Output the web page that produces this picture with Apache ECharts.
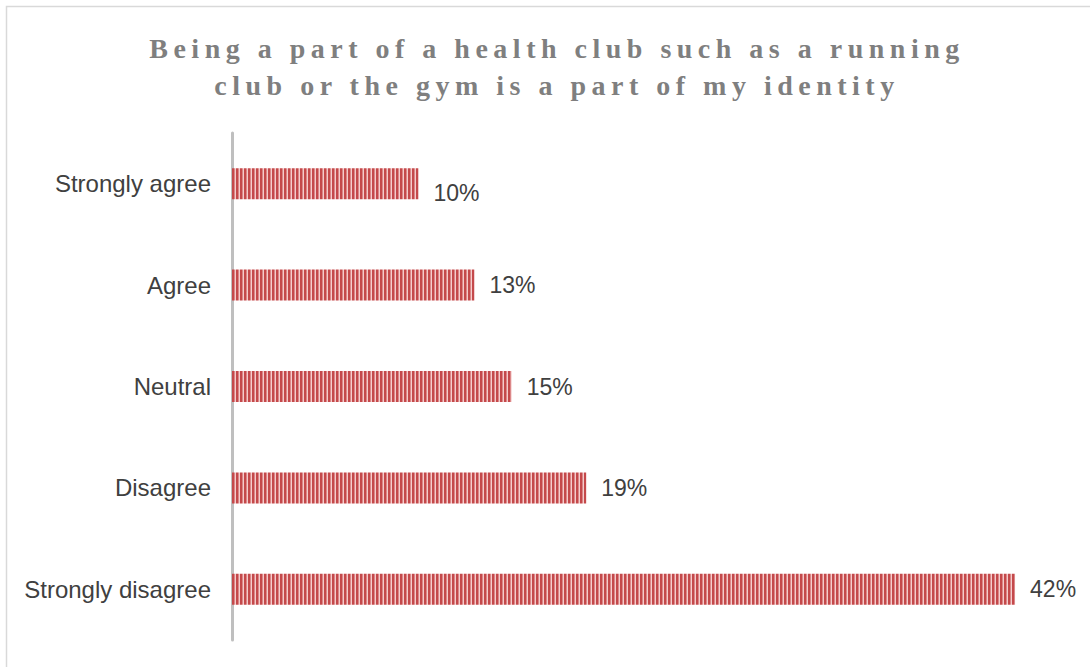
<!DOCTYPE html>
<html>
<head>
<meta charset="utf-8">
<script src="https://cdn.jsdelivr.net/npm/echarts@6/dist/echarts.min.js"></script>
<style>
  html, body { margin: 0; padding: 0; background: #fff; }
  #chart { width: 1090px; height: 667px; overflow: hidden; }
  /* title letter spacing (svg renderer) */
  #chart text[style*="Liberation Serif"] { letter-spacing: 5.5px; }
</style>
</head>
<body>
<div id="chart"></div>
<script>
var titleText = "Being a part of a health club such as a running\nclub or the gym is a part of my identity";
var categories = ["Strongly agree", "Agree", "Neutral", "Disagree", "Strongly disagree"];
var values = [10, 13, 15, 19, 42];

// striped fill for the bars
function stripeImage() {
  var c = document.createElement("canvas");
  c.width = 4;
  c.height = 4;
  var ctx = c.getContext("2d");
  ctx.fillStyle = "#c4494b";
  ctx.fillRect(0, 0, 2, 4);
  ctx.fillStyle = "#dc8889";
  ctx.fillRect(2, 0, 1, 4);
  ctx.fillStyle = "#f4cccc";
  ctx.fillRect(3, 0, 1, 4);
  return c.toDataURL();
}

var myChart = echarts.init(document.getElementById("chart"), null, { renderer: "svg" });

var seriesData = values.map(function (v, i) {
  var item = { value: v };
  if (i === 0) {
    item.label = { offset: [0, 9] };
  }
  return item;
});

myChart.setOption({
  animation: false,
  backgroundColor: "#ffffff",
  graphic: [{
    type: "rect",
    shape: { x: 6.5, y: 6.5, width: 1200, height: 800 },
    style: { fill: "none", stroke: "#d9d9d9", lineWidth: 1.5 },
    silent: true
  }],
  title: {
    text: titleText,
    left: 552,
    top: 25,
    textAlign: "center",
    textStyle: {
      fontFamily: "Liberation Serif",
      fontWeight: "bold",
      fontSize: 28,
      color: "#7f7f7f",
      lineHeight: 37
    }
  },
  grid: {
    left: 232,
    right: 19,
    top: 133,
    bottom: 27,
    containLabel: false
  },
  xAxis: {
    type: "value",
    min: 0,
    max: 45,
    show: false,
    splitLine: { show: false }
  },
  yAxis: {
    type: "category",
    data: categories,
    inverse: true,
    axisTick: { show: false },
    axisLine: { show: true, lineStyle: { color: "#bfbfbf", width: 3 } },
    axisLabel: {
      margin: 21,
      fontFamily: "Liberation Sans",
      fontSize: 24,
      color: "#404040"
    }
  },
  series: [{
    type: "bar",
    data: seriesData,
    barWidth: 31,
    itemStyle: {
      color: {
        image: stripeImage(),
        imageWidth: 4,
        imageHeight: 4,
        repeat: "repeat"
      }
    },
    label: {
      show: true,
      position: "right",
      distance: 15,
      formatter: "{c}%",
      fontFamily: "Liberation Sans",
      fontSize: 23,
      color: "#404040"
    }
  }]
});
</script>
</body>
</html>
